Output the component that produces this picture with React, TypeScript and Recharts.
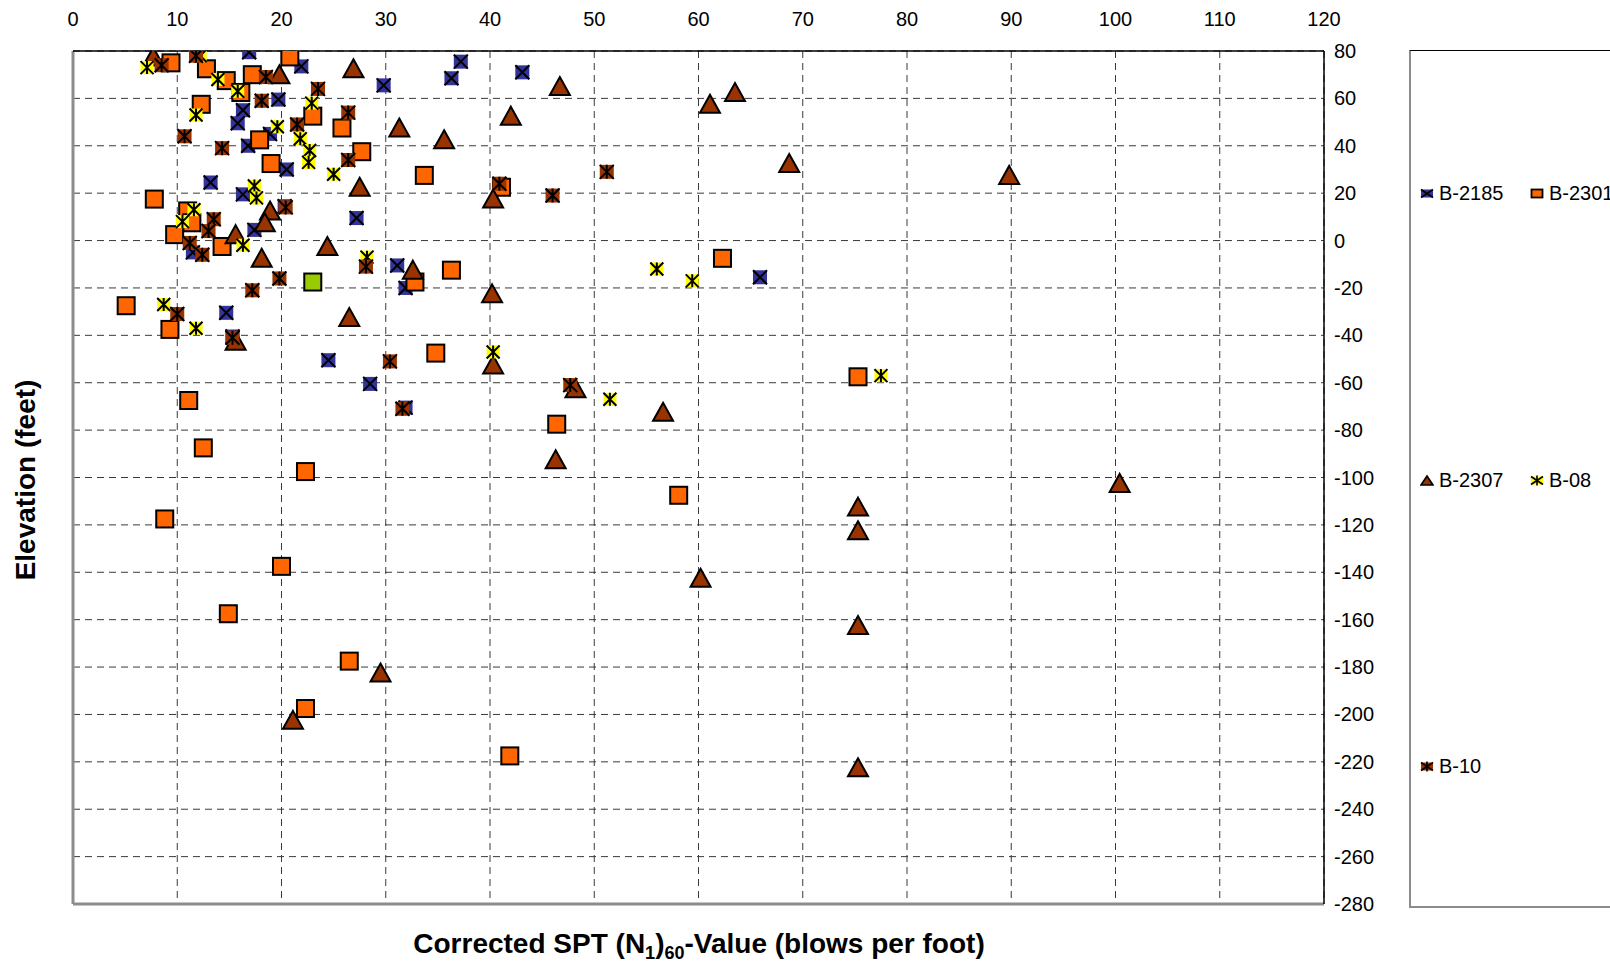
import {
  CartesianGrid,
  ReferenceLine,
  Scatter,
  ScatterChart,
  XAxis,
  YAxis,
} from "recharts";

type Pair = [number, number];

const xTicks = [0, 10, 20, 30, 40, 50, 60, 70, 80, 90, 100, 110, 120];
const yTicks = [
  80, 60, 40, 20, 0, -20, -40, -60, -80, -100, -120, -140, -160, -180, -200,
  -220, -240, -260, -280,
];

const b2185: Pair[] = [
  [16.9, 79.5], [21.9, 73.5], [37.2, 75.5], [36.3, 68.5], [43.1, 71],
  [29.8, 65.5], [19.7, 59.5], [16.3, 55], [15.8, 49.5], [18.9, 45],
  [16.8, 40], [20.5, 30], [13.2, 24.5], [16.3, 19.5], [20.3, 14.5],
  [27.2, 9.5], [17.4, 4.5], [11.5, -5], [31.1, -10.5], [65.9, -15.5],
  [31.9, -20], [14.7, -30.5], [15.3, -40.5], [24.5, -50.5], [28.5, -60.5],
  [31.9, -70.5],
];

const b2301: Pair[] = [
  [20.8, 77.5], [9.4, 75], [12.8, 72.5], [17.2, 70], [14.7, 67.5],
  [16.1, 62.5], [12.3, 57.5], [23, 52.5], [25.8, 47.5], [17.9, 42.5],
  [27.7, 37.5], [19, 32.5], [33.7, 27.5], [41.1, 22.5], [7.8, 17.5],
  [11, 12.5], [11.4, 7.5], [9.75, 2.5], [14.3, -2.5], [62.3, -7.5],
  [36.3, -12.5], [32.8, -17.5], [5.1, -27.5], [9.3, -37.5], [34.8, -47.5],
  [75.3, -57.5], [11.1, -67.5], [46.4, -77.5], [12.5, -87.5], [22.3, -97.5],
  [58.1, -107.5], [8.8, -117.5], [20, -137.5], [14.9, -157.5],
  [26.5, -177.5], [22.3, -197.5], [41.9, -217.5],
];

const b2301Flagged: Pair[] = [[23, -17.5]];

const b2307: Pair[] = [
  [7.7, 77.5], [26.9, 72.5], [19.8, 70], [46.7, 65], [63.5, 62.5],
  [61.1, 57.5], [42, 52.5], [31.3, 47.5], [35.6, 42.5], [68.7, 32.5],
  [89.8, 27.5], [27.5, 22.5], [40.3, 17.5], [18.9, 12.5], [18.4, 7.5],
  [15.6, 2.5], [24.4, -2.5], [18.1, -7.5], [32.6, -12.5], [40.2, -22.5],
  [26.5, -32.5], [15.6, -42.5], [40.3, -52.5], [48.2, -62.5], [56.6, -72.5],
  [46.3, -92.5], [100.4, -102.5], [75.3, -112.5], [75.3, -122.5],
  [60.2, -142.5], [75.3, -162.5], [29.5, -182.5], [21.1, -202.5],
  [75.3, -222.5],
];

const b08: Pair[] = [
  [12.2, 78], [7.1, 73], [13.9, 68], [15.8, 63], [22.9, 58], [11.8, 53],
  [19.6, 48], [21.8, 43], [22.7, 38], [22.6, 33], [25, 28], [17.4, 23],
  [17.6, 18], [11.6, 13], [10.5, 8], [16.3, -2], [28.2, -7], [56, -12],
  [59.4, -17], [8.7, -27], [11.8, -37], [40.3, -47], [77.5, -57],
  [51.5, -67],
];

const b10: Pair[] = [
  [11.8, 78], [8.5, 74], [18.5, 69], [23.5, 64], [18.1, 59], [26.4, 54],
  [21.5, 49], [10.7, 44], [14.3, 39], [26.4, 34], [51.2, 29], [40.9, 24],
  [46, 19], [20.4, 14], [13.5, 9], [13, 4], [11.2, -1], [12.4, -6],
  [28.1, -11], [19.8, -16], [17.2, -21], [10, -31], [15.3, -41],
  [30.4, -51], [47.7, -61], [31.6, -71],
];

const toPoints = (pairs: Pair[]) => pairs.map(([x, y]) => ({ x, y }));

const FONT = '"Liberation Sans", Arial, Helvetica, sans-serif';
const PLOT_LEFT = 73;
const PLOT_RIGHT = 1324;
const PLOT_TOP = 51;
const PLOT_BOTTOM = 904;

const BLUE = "#333399";
const ORANGE = "#FF6600";
const BROWN = "#993300";
const YELLOW = "#FFFF00";
const GREEN = "#99CC00";

function crossPath(cx: number, cy: number, h: number, star: boolean) {
  let d = `M${cx - h},${cy - h}L${cx + h},${cy + h}M${cx + h},${cy - h}L${cx - h},${cy + h}`;
  if (star) d += `M${cx},${cy - h}L${cx},${cy + h}`;
  return d;
}

const crossShape = (fill: string, size: number, star: boolean) => (props: any) => {
  const { cx, cy } = props;
  const h = size / 2;
  return (
    <g>
      <rect x={cx - h} y={cy - h} width={size} height={size} fill={fill} />
      <path d={crossPath(cx, cy, h, star)} stroke="#000" strokeWidth={2} fill="none" />
    </g>
  );
};

const squareShape = (fill: string) => (props: any) => {
  const { cx, cy } = props;
  return (
    <rect x={cx - 8.5} y={cy - 8.5} width={17} height={17} fill={fill} stroke="#000" strokeWidth={2} />
  );
};

const triangleShape = (props: any) => {
  const { cx, cy } = props;
  return (
    <polygon
      points={`${cx},${cy - 9.5} ${cx + 10},${cy + 8.5} ${cx - 10},${cy + 8.5}`}
      fill={BROWN}
      stroke="#000"
      strokeWidth={2}
    />
  );
};

const XTick = (props: any) => (
  <text x={props.x} y={PLOT_TOP - 25} textAnchor="middle" fontSize={20} fontFamily={FONT} fill="#000">
    {props.payload.value}
  </text>
);

const YTick = (props: any) => (
  <text x={PLOT_RIGHT + 10} y={props.y + 7} textAnchor="start" fontSize={20} fontFamily={FONT} fill="#000">
    {props.payload.value}
  </text>
);

function LegendIcon({ kind }: { kind: string }) {
  return (
    <svg width={14} height={12} style={{ display: "block" }}>
      {kind === "b2185" && (
        <g>
          <rect x={1} y={2} width={12} height={8} fill={BLUE} />
          <path d="M1,2L13,10M13,2L1,10" stroke="#000" strokeWidth={1.6} />
        </g>
      )}
      {kind === "b2301" && (
        <rect x={1.5} y={2} width={11} height={8} fill={ORANGE} stroke="#000" strokeWidth={1.8} />
      )}
      {kind === "b2307" && (
        <polygon points="7,1.5 13,10.5 1,10.5" fill={BROWN} stroke="#000" strokeWidth={1.6} />
      )}
      {kind === "b08" && (
        <g>
          <rect x={1} y={2} width={12} height={8} fill={YELLOW} />
          <path d="M1,2L13,10M13,2L1,10M7,1L7,11" stroke="#000" strokeWidth={1.6} />
        </g>
      )}
      {kind === "b10" && (
        <g>
          <rect x={1} y={2} width={12} height={8} fill={BROWN} />
          <path d="M1,2L13,10M13,2L1,10M7,1L7,11" stroke="#000" strokeWidth={1.6} />
        </g>
      )}
    </svg>
  );
}

const legendItems = [
  { kind: "b2185", label: "B-2185", left: 1420, top: 193 },
  { kind: "b2301", label: "B-2301", left: 1530, top: 193 },
  { kind: "b2307", label: "B-2307", left: 1420, top: 480 },
  { kind: "b08", label: "B-08", left: 1530, top: 480 },
  { kind: "b10", label: "B-10", left: 1420, top: 766 },
];

export default function App() {
  return (
    <div
      style={{
        position: "fixed",
        left: 0,
        top: 0,
        width: 1610,
        height: 966,
        overflow: "hidden",
        background: "#fff",
        fontFamily: FONT,
      }}
    >
      <ScatterChart
        width={1610}
        height={966}
        margin={{ top: PLOT_TOP - 35, left: PLOT_LEFT, right: 1610 - PLOT_RIGHT - 60, bottom: 966 - PLOT_BOTTOM }}
      >
        <CartesianGrid stroke="#3a3a3a" strokeDasharray="7 5" />
        <XAxis
          type="number"
          dataKey="x"
          orientation="top"
          domain={[0, 120]}
          ticks={xTicks}
          height={35}
          tickLine={false}
          axisLine={{ stroke: "#000", strokeWidth: 1.5 }}
          tick={XTick}
          allowDataOverflow
        />
        <YAxis
          type="number"
          dataKey="y"
          orientation="right"
          domain={[-280, 80]}
          ticks={yTicks}
          width={60}
          tickLine={false}
          axisLine={{ stroke: "#000", strokeWidth: 1.5 }}
          tick={YTick}
          allowDataOverflow
        />
        <ReferenceLine x={0} stroke="#8c8c8c" strokeWidth={3} />
        <ReferenceLine y={-280} stroke="#8c8c8c" strokeWidth={3} />
        <Scatter name="B-2185" data={toPoints(b2185)} shape={crossShape(BLUE, 14, false)} isAnimationActive={false} />
        <Scatter name="B-2301" data={toPoints(b2301)} shape={squareShape(ORANGE)} isAnimationActive={false} />
        <Scatter name="B-2301 flagged" data={toPoints(b2301Flagged)} shape={squareShape(GREEN)} legendType="none" isAnimationActive={false} />
        <Scatter name="B-2307" data={toPoints(b2307)} shape={triangleShape} isAnimationActive={false} />
        <Scatter name="B-08" data={toPoints(b08)} shape={crossShape(YELLOW, 13, true)} isAnimationActive={false} />
        <Scatter name="B-10" data={toPoints(b10)} shape={crossShape(BROWN, 14, true)} isAnimationActive={false} />
      </ScatterChart>

      <div
        style={{
          position: "absolute",
          left: 1409,
          top: 50,
          width: 260,
          height: 858,
          borderTop: "1px solid #000",
          borderLeft: "2px solid #8c8c8c",
          borderBottom: "2px solid #8c8c8c",
          boxSizing: "border-box",
        }}
      />
      {legendItems.map((item) => (
        <div
          key={item.label}
          style={{
            position: "absolute",
            left: item.left,
            top: item.top,
            transform: "translateY(-50%)",
            display: "flex",
            alignItems: "center",
            gap: 5,
            fontSize: 20,
            whiteSpace: "nowrap",
          }}
        >
          <LegendIcon kind={item.kind} />
          <span>{item.label}</span>
        </div>
      ))}

      <div
        style={{
          position: "absolute",
          left: 26,
          top: 480,
          transform: "translate(-50%, -50%) rotate(-90deg)",
          fontSize: 28,
          fontWeight: "bold",
          whiteSpace: "nowrap",
        }}
      >
        Elevation (feet)
      </div>
      <div
        style={{
          position: "absolute",
          left: 699,
          top: 946,
          transform: "translate(-50%, -50%)",
          fontSize: 28,
          fontWeight: "bold",
          whiteSpace: "nowrap",
        }}
      >
        Corrected SPT (N<sub style={{ fontSize: 18 }}>1</sub>)<sub style={{ fontSize: 18 }}>60</sub>-Value (blows per foot)
      </div>
    </div>
  );
}
